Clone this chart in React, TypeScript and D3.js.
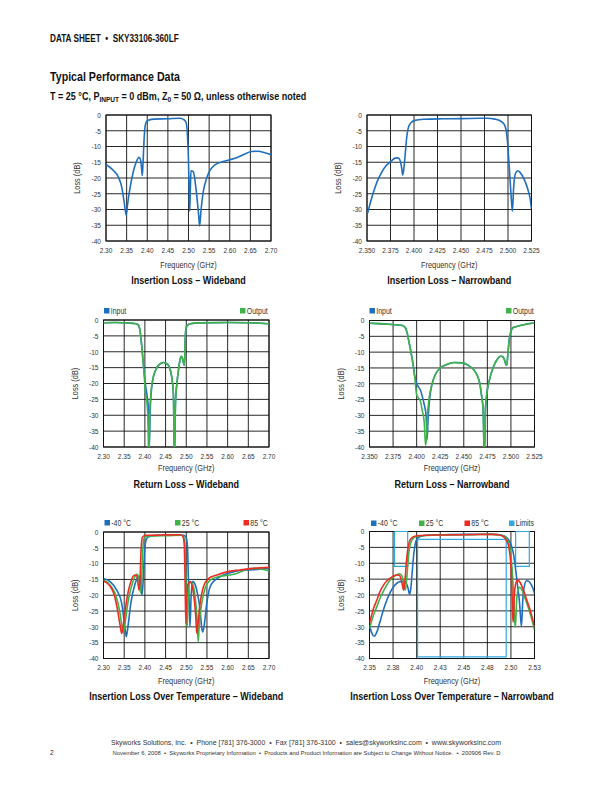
import React from 'react';
import * as d3 from 'd3';

type Pt = [number, number];

const FONT = '"Liberation Sans",Arial,Helvetica,sans-serif';
const SX = 0.82; // horizontal condensation to mimic a narrow grotesque

const BLUE = '#1f6fbd';
const GREEN = '#3fb34a';
const RED = '#ec2d24';
const LIMIT = '#2fa9e0';

// ---- axes ----
const yTicks = [0, -5, -10, -15, -20, -25, -30, -35, -40];
const yTickLabels = ['0', '-5', '-10', '-15', '-20', '-25', '-30', '-35', '-40'];
const wideTicks = [2.3, 2.35, 2.4, 2.45, 2.5, 2.55, 2.6, 2.65, 2.7];
const wideTickLabels = ['2.30', '2.35', '2.40', '2.45', '2.50', '2.55', '2.60', '2.65', '2.70'];
const narrowTicks = [2.35, 2.375, 2.4, 2.425, 2.45, 2.475, 2.5, 2.525];
const narrowTickLabels = ['2.350', '2.375', '2.400', '2.425', '2.450', '2.475', '2.500', '2.525'];
const narrowTickLabels2 = ['2.35', '2.38', '2.40', '2.43', '2.45', '2.48', '2.50', '2.53'];

// ---- Insertion loss, wideband ----
const ilWide: Pt[] = [
  [2.3, -15.7], [2.318, -17.6], [2.33, -19.7], [2.338, -22.8], [2.344, -27.6], [2.349, -31.8],
  [2.352, -28.6], [2.358, -23.4], [2.366, -18.1], [2.374, -14.7], [2.38, -13.4], [2.384, -14.4],
  [2.387, -18.1], [2.388, -19.2], [2.3895, -16], [2.392, -8.6], [2.395, -3.4], [2.4, -1.8],
  [2.415, -1.3], [2.45, -1.2], [2.479, -1.05], [2.489, -1.5], [2.494, -2.3], [2.497, -5.5],
  [2.4996, -12.8], [2.502, -26.5], [2.503, -30.5], [2.5045, -23.4], [2.506, -17.7],
  [2.5116, -18], [2.519, -24.4], [2.5246, -31.8], [2.527, -35.2], [2.53, -30.7], [2.535, -25],
  [2.5436, -20.2], [2.552, -17.6], [2.564, -15.8], [2.584, -14.8], [2.6, -14.2], [2.617, -13.6],
  [2.633, -12.6], [2.653, -11.6], [2.669, -11.5], [2.685, -12], [2.7, -12.6],
];

// ---- Insertion loss, narrowband ----
const ilNarrow: Pt[] = [
  [2.3505, -31.3], [2.353, -28.5], [2.357, -24.4], [2.361, -21], [2.365, -18.5], [2.37, -16.2],
  [2.375, -14.8], [2.38, -13.7], [2.383, -13.6], [2.385, -14.3], [2.387, -17], [2.388, -19],
  [2.389, -17.5], [2.3905, -13], [2.392, -7.8], [2.394, -4], [2.397, -2.4], [2.401, -1.7],
  [2.41, -1.35], [2.43, -1.2], [2.45, -1.15], [2.47, -1.05], [2.478, -1.05], [2.486, -1.3],
  [2.492, -1.9], [2.496, -3.0], [2.498, -4.8], [2.4995, -8.6], [2.501, -15], [2.5025, -22],
  [2.504, -28.5], [2.5047, -30.5], [2.506, -23], [2.508, -18.5], [2.5105, -17.7], [2.513, -18.3],
  [2.517, -20.3], [2.521, -23.5], [2.5235, -26.5], [2.525, -29.7],
];

// ---- Return loss, wideband ----
const rlWideOut: Pt[] = [
  [2.3, -0.85], [2.33, -0.8], [2.36, -0.95], [2.375, -1.1], [2.383, -1.4], [2.387, -2.5],
  [2.39, -5], [2.393, -9], [2.396, -13.5], [2.399, -18.5], [2.401, -23], [2.404, -25],
  [2.407, -30], [2.4095, -44], [2.4115, -30], [2.414, -24], [2.42, -18.2], [2.427, -15.5],
  [2.435, -14], [2.445, -13.4], [2.455, -14], [2.462, -16], [2.466, -19], [2.469, -23.5],
  [2.4715, -44], [2.474, -26], [2.477, -20.5], [2.481, -16], [2.485, -12.5], [2.488, -11.4],
  [2.491, -12.2], [2.494, -13.8], [2.4955, -14.3], [2.4975, -6], [2.499, -3], [2.502, -1.8],
  [2.51, -1.2], [2.53, -0.9], [2.6, -0.8], [2.65, -0.85], [2.68, -1.0], [2.7, -1.2],
];
const rlWideIn: Pt[] = [
  [2.3, -0.85], [2.33, -0.8], [2.36, -0.95], [2.375, -1.1], [2.383, -1.4], [2.387, -2.5],
  [2.39, -5], [2.393, -9], [2.396, -13.5], [2.399, -17.5], [2.402, -21], [2.406, -24.5],
  [2.409, -29], [2.411, -40], [2.4125, -30], [2.415, -23.5], [2.42, -18.2], [2.427, -15.5],
  [2.435, -14], [2.445, -13.4], [2.455, -14], [2.462, -16], [2.466, -19], [2.469, -23.5],
  [2.4715, -44], [2.474, -26], [2.477, -20.5], [2.481, -16], [2.485, -12.5], [2.488, -11.4],
  [2.491, -12.2], [2.494, -13.8], [2.4955, -14.3], [2.4975, -6], [2.499, -3], [2.502, -1.8],
  [2.51, -1.2], [2.53, -0.9], [2.6, -0.8], [2.65, -0.85], [2.68, -1.0], [2.7, -1.2],
];

// ---- Return loss, narrowband ----
const rlNarrowOut: Pt[] = [
  [2.35, -0.85], [2.36, -1.0], [2.37, -1.2], [2.38, -1.4], [2.385, -1.6], [2.388, -2.3],
  [2.39, -4], [2.392, -7], [2.394, -10], [2.396, -13.5], [2.398, -18], [2.4, -23.5],
  [2.402, -24.5], [2.404, -25.5], [2.406, -28.5], [2.408, -32], [2.4095, -39.5], [2.4105, -37],
  [2.4115, -30], [2.413, -25], [2.416, -20.5], [2.42, -17], [2.425, -15], [2.432, -13.9],
  [2.44, -13.3], [2.448, -13.4], [2.455, -14.2], [2.46, -15.4], [2.464, -17.2], [2.467, -20],
  [2.469, -24], [2.4705, -28], [2.4718, -44], [2.473, -28], [2.4745, -23], [2.477, -19],
  [2.481, -15], [2.485, -12.5], [2.489, -11.3], [2.491, -11.4], [2.493, -12.3], [2.4945, -13.8],
  [2.4955, -14.2], [2.4968, -10.5], [2.498, -6.5], [2.5, -3.5], [2.502, -2.3], [2.506, -1.9],
  [2.51, -1.6], [2.517, -1.1], [2.525, -0.8],
];
const rlNarrowIn: Pt[] = [
  [2.35, -0.85], [2.36, -1.0], [2.37, -1.2], [2.38, -1.4], [2.385, -1.6], [2.388, -2.3],
  [2.39, -4], [2.392, -7], [2.394, -10], [2.396, -13.5], [2.398, -17.5], [2.4, -20],
  [2.402, -21], [2.404, -22], [2.406, -24], [2.408, -26.5], [2.41, -30], [2.4112, -37.5],
  [2.412, -32], [2.4135, -25.5], [2.416, -20.5], [2.42, -17], [2.425, -15], [2.432, -13.9],
  [2.44, -13.3], [2.448, -13.4], [2.455, -14.2], [2.46, -15.4], [2.464, -17.2], [2.467, -20],
  [2.469, -24], [2.4705, -28], [2.4718, -44], [2.473, -28], [2.4745, -23], [2.477, -19],
  [2.481, -15], [2.485, -12.5], [2.489, -11.3], [2.491, -11.4], [2.493, -12.3], [2.4945, -13.8],
  [2.4955, -14.2], [2.4968, -10.5], [2.498, -6.5], [2.5, -3.5], [2.502, -2.3], [2.506, -1.9],
  [2.51, -1.6], [2.517, -1.1], [2.525, -0.8],
];

// ---- Insertion loss over temperature, wideband ----
const tWideM40: Pt[] = [
  [2.3, -14.7], [2.316, -15.7], [2.332, -18.4], [2.344, -22.6], [2.352, -30.5], [2.355, -33.1],
  [2.359, -30], [2.366, -22.6], [2.3765, -16.3], [2.385, -13.9], [2.389, -14.7], [2.393, -20],
  [2.396, -15.2], [2.399, -6.8], [2.403, -2.5], [2.409, -1.5], [2.429, -1.05], [2.46, -1.0],
  [2.493, -1.05], [2.4997, -1.7], [2.503, -4.6], [2.505, -14.1], [2.5077, -24.7], [2.509, -29.8],
  [2.5117, -20.5], [2.515, -15.7], [2.519, -16], [2.527, -19.4], [2.5335, -24.7], [2.5375, -30.5],
  [2.54, -31.6], [2.544, -28.9], [2.5496, -22.6], [2.5577, -17.3], [2.57, -15.2], [2.59, -13.6],
  [2.614, -12.6], [2.646, -12], [2.678, -11.8], [2.7, -11.5],
];
const tWide25: Pt[] = [
  [2.3, -15.2], [2.316, -16.8], [2.328, -19.4], [2.3386, -24.7], [2.345, -30], [2.348, -31.9],
  [2.352, -28.9], [2.36, -21.5], [2.371, -15.7], [2.3805, -13.4], [2.3845, -13.9], [2.3886, -18.4],
  [2.39, -19.2], [2.3926, -14.1], [2.395, -5.7], [2.398, -2.0], [2.4047, -1.3], [2.44, -1.2],
  [2.489, -1.05], [2.495, -2], [2.497, -5.7], [2.4997, -19.4], [2.502, -30.2], [2.5045, -21.5],
  [2.5077, -15.7], [2.5134, -16], [2.5215, -20.5], [2.5263, -27.9], [2.529, -34.7], [2.531, -30],
  [2.5375, -22.6], [2.5456, -17.8], [2.5577, -15.2], [2.578, -14.1], [2.606, -13.6], [2.622, -13.1],
  [2.646, -11.8], [2.666, -11.5], [2.6825, -11.8], [2.7, -12.3],
];
const tWide85: Pt[] = [
  [2.3, -15.5], [2.316, -17.1], [2.326, -19.9], [2.334, -24.7], [2.34, -29.4], [2.344, -32.1],
  [2.348, -29.4], [2.356, -21.5], [2.366, -15.7], [2.3757, -13.6], [2.3805, -13.9], [2.3845, -17.3],
  [2.386, -18.4], [2.3886, -14.1], [2.391, -5.2], [2.394, -1.7], [2.4006, -1.05], [2.44, -0.95],
  [2.485, -0.85], [2.4917, -1.3], [2.495, -3.6], [2.497, -14.1], [2.499, -29], [2.5005, -23.6],
  [2.5037, -16.8], [2.5094, -15.7], [2.5175, -19.4], [2.523, -26.8], [2.5255, -32.1], [2.528, -29.4],
  [2.5335, -22.6], [2.5416, -17.3], [2.5537, -14.7], [2.574, -13.6], [2.598, -12.6], [2.63, -12],
  [2.662, -11.5], [2.7, -11.2],
];

// ---- Insertion loss over temperature, narrowband ----
const tNarM40: Pt[] = [
  [2.35, -29.5], [2.3525, -32], [2.355, -33], [2.358, -31.5], [2.3615, -28], [2.365, -24.5],
  [2.3685, -21.5], [2.372, -19.2], [2.3755, -17.4], [2.379, -16.3], [2.3825, -15.8], [2.3865, -15.8],
  [2.389, -16.3], [2.391, -18], [2.3925, -19.8], [2.394, -17.5], [2.3955, -12], [2.397, -7],
  [2.3985, -4], [2.4005, -2.3], [2.404, -1.6], [2.41, -1.2], [2.43, -1.0], [2.46, -0.9],
  [2.48, -0.85], [2.487, -0.95], [2.492, -1.3], [2.4955, -1.9], [2.498, -2.8], [2.5005, -4.5],
  [2.503, -7.5], [2.505, -12], [2.507, -17], [2.509, -22], [2.5105, -28], [2.5112, -29.8],
  [2.5125, -22], [2.514, -17.5], [2.5165, -15.5], [2.519, -15.7], [2.5215, -16.7], [2.5235, -18],
  [2.525, -19.5],
];
const tNar25: Pt[] = [
  [2.35, -30.5], [2.354, -26.5], [2.358, -23.5], [2.3615, -20.8], [2.365, -18.7], [2.369, -16.5],
  [2.3735, -14.8], [2.378, -13.8], [2.3815, -13.3], [2.384, -13.8], [2.386, -15.8], [2.3878, -18.5],
  [2.389, -16.5], [2.3905, -11], [2.392, -6], [2.394, -3.3], [2.397, -2], [2.401, -1.5],
  [2.41, -1.25], [2.43, -1.1], [2.46, -1.0], [2.48, -0.9], [2.488, -1.1], [2.493, -1.6],
  [2.4965, -2.8], [2.4985, -4.5], [2.5, -7.5], [2.5015, -13], [2.503, -21], [2.5042, -29],
  [2.5048, -30], [2.506, -22], [2.5075, -18.5], [2.509, -17.6], [2.511, -18], [2.515, -21],
  [2.519, -24.5], [2.522, -27.5], [2.525, -31],
];
const tNar85: Pt[] = [
  [2.35, -29], [2.354, -24.5], [2.3578, -21.6], [2.361, -19], [2.365, -16.8], [2.3685, -15.5],
  [2.372, -14.7], [2.3755, -14.0], [2.379, -13.7], [2.3815, -13.8], [2.3835, -15], [2.385, -17],
  [2.386, -18.5], [2.387, -17], [2.388, -14], [2.389, -10], [2.3905, -5.9], [2.392, -3.5],
  [2.394, -2.2], [2.398, -1.5], [2.405, -1.25], [2.42, -1.1], [2.45, -1.0], [2.48, -0.9],
  [2.486, -1.0], [2.49, -1.3], [2.493, -1.9], [2.4955, -3], [2.4975, -4.5], [2.499, -7.5],
  [2.5, -11], [2.501, -18], [2.502, -27], [2.5025, -28.5], [2.5035, -20.6], [2.505, -16.5],
  [2.507, -15.3], [2.5095, -15.9], [2.512, -17.5], [2.515, -20], [2.519, -23.5], [2.522, -26.5],
  [2.525, -30],
];

// ---- limit masks ----
const limitLow: Pt[] = [[2.3765, 0], [2.3765, -11], [2.3905, -11], [2.3905, 0], [2.3765, 0]];
const limitPass: Pt[] = [[2.401, -2.5], [2.401, -39.5], [2.495, -39.5], [2.495, -2.5], [2.401, -2.5]];
const limitHigh: Pt[] = [[2.505, 0], [2.505, -11], [2.5195, -11], [2.5195, 0], [2.505, 0]];

type Box = { x0: number; x1: number; y0: number; y1: number };
type Series = { data: Pt[]; color: string; linear?: boolean; width?: number };
type LegendItem = { label: string; color: string; x: number };

interface NTextProps {
  x: number; y: number; size: number; anchor?: 'start' | 'middle' | 'end'; bold?: boolean;
  fill?: string; rotate?: number; dy?: string; children?: React.ReactNode;
}
// narrow text: drawn at origin, scaled horizontally
const NText: React.FC<NTextProps> = ({ x, y, size, anchor = 'start', bold, fill = '#333', rotate, dy, children }) => (
  <text transform={`translate(${x},${y})${rotate ? ` rotate(${rotate})` : ''} scale(${SX},1)`} x={0} y={0} dy={dy}
    textAnchor={anchor} fontSize={size} fontWeight={bold ? 'bold' : 'normal'} fill={fill}>{children}</text>
);

interface ChartProps {
  id: string;
  b: Box;
  xDomain: [number, number];
  xTicks: number[];
  xLabels: string[];
  series: Series[];
  title: string;
  xLabelY: number;
  titleY: number;
  legend?: LegendItem[];
  legendY?: number;
}

const Chart: React.FC<ChartProps> = ({ id, b, xDomain, xTicks, xLabels, series, title, xLabelY, titleY, legend, legendY }) => {
  const x = d3.scaleLinear().domain(xDomain).range([b.x0, b.x1]);
  const y = d3.scaleLinear().domain([0, -40]).range([b.y0, b.y1]);
  const smooth = d3.line<Pt>().x(d => x(d[0])).y(d => y(d[1])).curve(d3.curveMonotoneX);
  const straight = d3.line<Pt>().x(d => x(d[0])).y(d => y(d[1]));
  const cx = (b.x0 + b.x1) / 2;
  const cy = (b.y0 + b.y1) / 2;
  return (
    <g>
      <defs>
        <clipPath id={id}>
          <rect x={b.x0} y={b.y0 - 1} width={b.x1 - b.x0} height={b.y1 - b.y0 + 1} />
        </clipPath>
      </defs>
      {xTicks.map((t, i) => (
        <line key={'gx' + i} x1={x(t)} x2={x(t)} y1={b.y0} y2={b.y1} stroke="#111" strokeWidth={0.9} />
      ))}
      {yTicks.map((t, i) => (
        <line key={'gy' + i} x1={b.x0} x2={b.x1} y1={y(t)} y2={y(t)} stroke="#111" strokeWidth={0.9} />
      ))}
      <rect x={b.x0} y={b.y0} width={b.x1 - b.x0} height={b.y1 - b.y0} fill="none" stroke="#111" strokeWidth={1} />
      <g clipPath={`url(#${id})`}>
        {series.map((s, i) => (
          <path key={'s' + i} d={(s.linear ? straight : smooth)(s.data) || ''} fill="none" stroke={s.color}
            strokeWidth={s.width ?? 1.6} strokeLinejoin="round" />
        ))}
      </g>
      {yTicks.map((t, i) => (
        <NText key={'ly' + i} x={b.x0 - 5} y={y(t)} dy="0.35em" anchor="end" size={8}>{yTickLabels[i]}</NText>
      ))}
      {xTicks.map((t, i) => (
        <NText key={'lx' + i} x={x(t)} y={b.y1 + 11.5} anchor="middle" size={8}>{xLabels[i]}</NText>
      ))}
      <NText x={b.x0 - 26} y={cy} rotate={-90} anchor="middle" size={9}>Loss (dB)</NText>
      <NText x={cx} y={xLabelY} anchor="middle" size={9}>Frequency (GHz)</NText>
      <NText x={cx} y={titleY} anchor="middle" size={11} bold fill="#111">{title}</NText>
      {legend && legend.map((l, i) => (
        <g key={'lg' + i}>
          <rect x={l.x} y={(legendY ?? 0) - 5.5} width={5.5} height={5.5} fill={l.color} />
          <NText x={l.x + 6.8} y={legendY ?? 0} size={8.5}>{l.label}</NText>
        </g>
      ))}
    </g>
  );
};

export default function App() {
  return (
    <svg width={612} height={792} viewBox="0 0 612 792" style={{ position: 'absolute', left: 0, top: 0, fontFamily: FONT }}>
      <rect x={0} y={0} width={612} height={792} fill="#fff" />
      <NText x={50} y={42} size={10} bold fill="#111">{'DATA SHEET \u00a0•\u00a0 SKY33106-360LF'}</NText>
      <NText x={50} y={81} size={13} bold fill="#111">Typical Performance Data</NText>
      <NText x={50} y={100} size={11} bold fill="#111">
        T = 25 °C, P<tspan fontSize={8} dy={2}>INPUT</tspan><tspan dy={-2}> = 0 dBm, Z</tspan>
        <tspan fontSize={8} dy={2}>0</tspan><tspan dy={-2}> = 50 Ω, unless otherwise noted</tspan>
      </NText>

      <Chart id="c1" b={{ x0: 106, x1: 271, y0: 115, y1: 241 }} xDomain={[2.3, 2.7]} xTicks={wideTicks}
        xLabels={wideTickLabels} series={[{ data: ilWide, color: BLUE }]} title="Insertion Loss – Wideband"
        xLabelY={267.5} titleY={283.5} />
      <Chart id="c2" b={{ x0: 367, x1: 531.5, y0: 115, y1: 241 }} xDomain={[2.35, 2.525]} xTicks={narrowTicks}
        xLabels={narrowTickLabels} series={[{ data: ilNarrow, color: BLUE }]} title="Insertion Loss – Narrowband"
        xLabelY={267.5} titleY={283.5} />
      <Chart id="c3" b={{ x0: 103.5, x1: 269, y0: 320, y1: 447 }} xDomain={[2.3, 2.7]} xTicks={wideTicks}
        xLabels={wideTickLabels}
        series={[{ data: rlWideIn, color: BLUE }, { data: rlWideOut, color: GREEN }]}
        title="Return Loss – Wideband" xLabelY={471} titleY={488}
        legend={[{ label: 'Input', color: BLUE, x: 104 }, { label: 'Output', color: GREEN, x: 240 }]} legendY={313.5} />
      <Chart id="c4" b={{ x0: 369.5, x1: 534.5, y0: 320.5, y1: 447 }} xDomain={[2.35, 2.525]} xTicks={narrowTicks}
        xLabels={narrowTickLabels}
        series={[{ data: rlNarrowIn, color: BLUE }, { data: rlNarrowOut, color: GREEN }]}
        title="Return Loss – Narrowband" xLabelY={471} titleY={488}
        legend={[{ label: 'Input', color: BLUE, x: 369.5 }, { label: 'Output', color: GREEN, x: 506 }]} legendY={313.5} />
      <Chart id="c5" b={{ x0: 103.5, x1: 269, y0: 532, y1: 658.5 }} xDomain={[2.3, 2.7]} xTicks={wideTicks}
        xLabels={wideTickLabels}
        series={[{ data: tWideM40, color: BLUE }, { data: tWide25, color: GREEN }, { data: tWide85, color: RED }]}
        title="Insertion Loss Over Temperature – Wideband" xLabelY={684} titleY={699.5}
        legend={[{ label: '-40 °C', color: BLUE, x: 104.5 }, { label: '25 °C', color: GREEN, x: 175 },
          { label: '85 °C', color: RED, x: 243.5 }]} legendY={525.5} />
      <Chart id="c6" b={{ x0: 369.5, x1: 534.5, y0: 531.5, y1: 658.5 }} xDomain={[2.35, 2.525]} xTicks={narrowTicks}
        xLabels={narrowTickLabels2}
        series={[
          { data: limitLow, color: LIMIT, linear: true, width: 1.2 },
          { data: limitPass, color: LIMIT, linear: true, width: 1.2 },
          { data: limitHigh, color: LIMIT, linear: true, width: 1.2 },
          { data: tNarM40, color: BLUE }, { data: tNar25, color: GREEN }, { data: tNar85, color: RED }]}
        title="Insertion Loss Over Temperature – Narrowband" xLabelY={684} titleY={699.5}
        legend={[{ label: '-40 °C', color: BLUE, x: 371 }, { label: '25 °C', color: GREEN, x: 419 },
          { label: '85 °C', color: RED, x: 464.5 }, { label: 'Limits', color: LIMIT, x: 509 }]} legendY={526} />

      <text x={306} y={745} textAnchor="middle" fontSize={7.5} fill="#333" textLength={390} lengthAdjust="spacingAndGlyphs">
        {'Skyworks Solutions, Inc. \u00a0•\u00a0 Phone [781] 376-3000 \u00a0•\u00a0 Fax [781] 376-3100 \u00a0•\u00a0 sales@skyworksinc.com \u00a0•\u00a0 www.skyworksinc.com'}
      </text>
      <text x={306.5} y={755} textAnchor="middle" fontSize={6} fill="#333" textLength={388} lengthAdjust="spacingAndGlyphs">
        {'November 6, 2008 \u00a0•\u00a0 Skyworks Proprietary Information \u00a0•\u00a0 Products and Product Information are Subject to Change Without Notice. \u00a0•\u00a0 200906 Rev. D'}
      </text>
      <NText x={50} y={755} size={8}>2</NText>
    </svg>
  );
}
